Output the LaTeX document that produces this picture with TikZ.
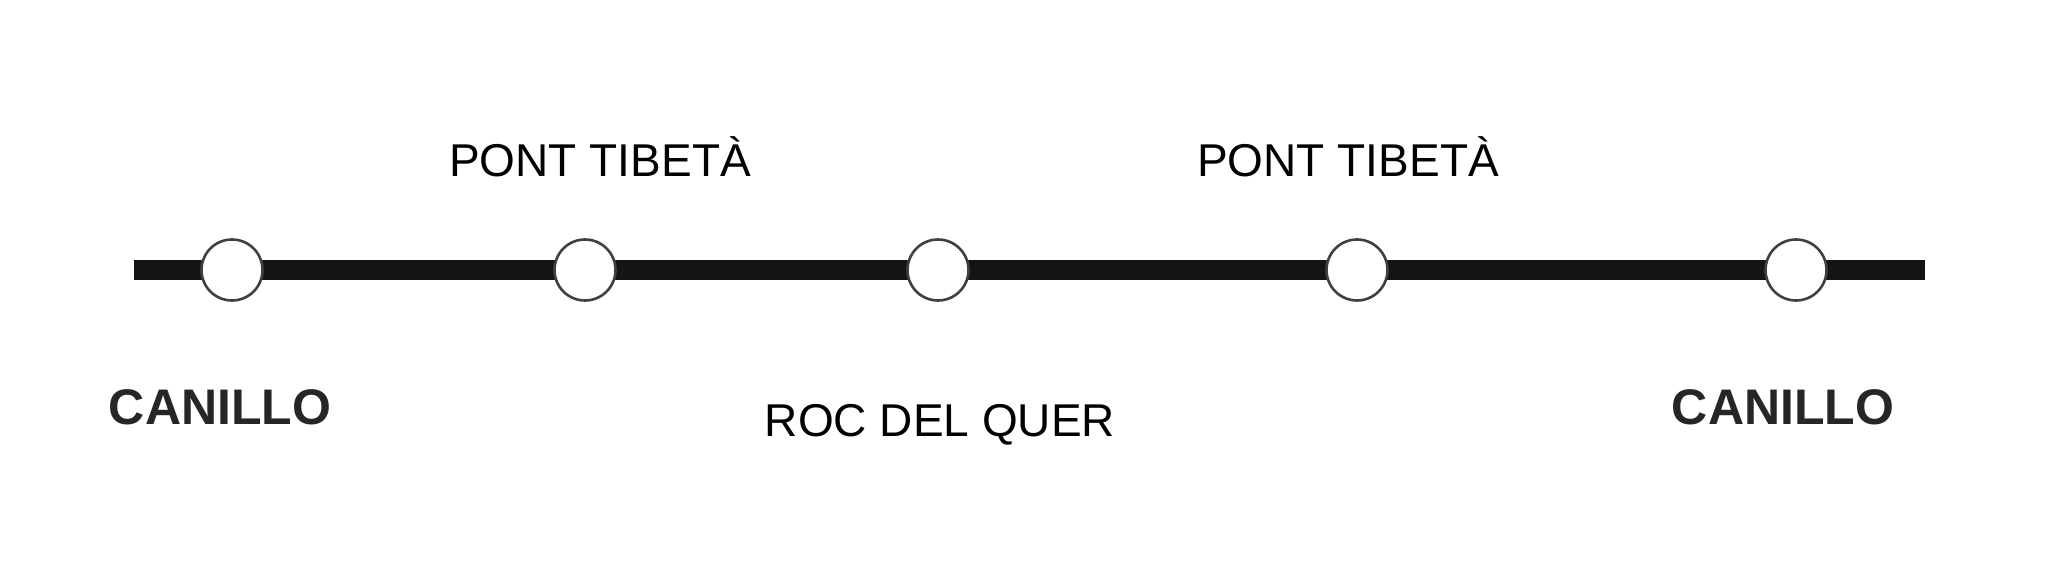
\documentclass[tikz,border=0pt]{standalone}
\usepackage{fontspec}
\setmainfont{Liberation Sans}
\begin{document}
\begin{tikzpicture}[
    x=1pt, y=1pt,
    myline/.style={line width=20pt, black!92},
    mystop/.style={circle, draw=black!75, line width=2.6pt, fill=white, minimum size=61pt, inner sep=0pt},
    mylabel/.style={font=\fontsize{46}{48}\selectfont, anchor=base},
    myname/.style={font=\bfseries\fontsize{50}{52}\selectfont, anchor=base, black!85}
]
    % Frame
    \useasboundingbox (0, 0) rectangle (2046, 562);

    % Line
    \coordinate (lstart) at (134, 292);
    \coordinate (lend) at (1925, 292);
    \draw[myline] (lstart) -- (lend);

    % Stops
    \foreach \x [count=\i] in {232, 585, 938, 1357, 1796} {
        \node[mystop] (s\i) at (\x, 292) {};
    }

    % Labels
    \node[mylabel] (tibet1) at (600, 385) {PONT TIBETÀ};
    \node[mylabel] (tibet2) at (1348, 385) {PONT TIBETÀ};
    \node[mylabel] (roc) at (940, 125) {ROC DEL QUER};
    \node[myname] (canillo1) at (220, 137) {CANILLO};
    \node[myname] (canillo2) at (1783, 137) {CANILLO};
\end{tikzpicture}
\end{document}
